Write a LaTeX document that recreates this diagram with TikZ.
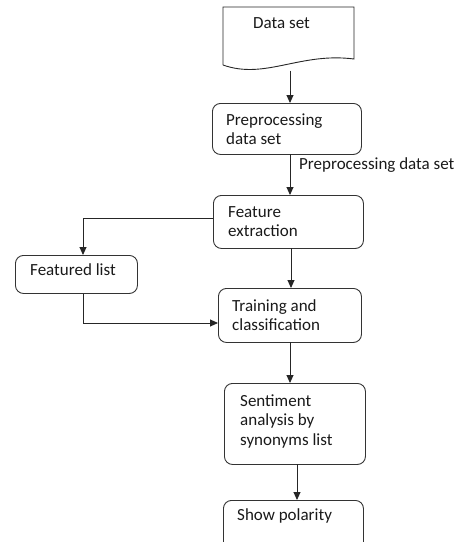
\documentclass[tikz,border=0pt]{standalone}
\usepackage{fontspec}
\setmainfont{Carlito}
\usetikzlibrary{arrows.meta}
\tikzset{
  box/.style={draw=black!80, line width=0.9pt, rounded corners=8pt, anchor=north west, inner sep=0pt},
  txt/.style={anchor=west, inner sep=0pt, font=\fontsize{17}{19.5}\selectfont, align=left, text=black!90},
  conn/.style={draw=black!85, line width=0.9pt},
  arr/.style={conn, -{Triangle[length=8pt,width=7pt]}}
}
\begin{document}
\begin{tikzpicture}[x=1pt,y=-1pt]
\useasboundingbox (0,0) rectangle (462,542);
\clip (0,0) rectangle (462,542);
% document shape
\draw[conn] (223,65) -- (223,7) -- (354,7) -- (354,59) .. controls (300,52) and (265,80) .. (223,65);
\coordinate (dsb) at (290,70.5);
\node[txt] (tds) at (253,23) {Data set};
% boxes
\node[box, minimum width=149pt, minimum height=51pt] (pre) at (212,103) {};
\node[box, minimum width=150pt, minimum height=53pt] (fe) at (213,195) {};
\node[box, minimum width=122pt, minimum height=38pt] (fl) at (15,255) {};
\node[box, minimum width=143pt, minimum height=54pt] (tc) at (218,288) {};
\node[box, minimum width=141pt, minimum height=81pt] (sa) at (224,383) {};
\node[box, minimum width=140pt, minimum height=60pt] (sp) at (223,500) {};
% texts
\node[txt] (tpre) at (226,129) {Preprocessing\\data set};
\node[txt] (tfe) at (228,221.5) {Feature\\extraction};
\node[txt] (tfl) at (30,270) {Featured list};
\node[txt] (ttc) at (232,315) {Training and\\classification};
\node[txt] (tsa) at (240,421) {Sentiment\\analysis by\\synonyms list};
\node[txt] (tsp) at (237,516) {Show polarity};
\node[txt] (lbl) at (299,165) {Preprocessing data set};
% connectors
\coordinate (c1) at (290,154);
\coordinate (c2) at (83,218);
\coordinate (c3) at (291,248);
\coordinate (c4) at (83,323);
\coordinate (c5) at (290,342);
\coordinate (c6) at (297,464);
\draw[arr] (dsb) -- (dsb |- pre.north);
\draw[arr] (c1) -- (c1 |- fe.north);
\draw[arr] (c2 -| fe.west) -- (c2) -- (c2 |- fl.north);
\draw[arr] (c3) -- (c3 |- tc.north);
\draw[arr] (c2 |- fl.south) -- (c4) -- (c4 -| tc.west);
\draw[arr] (c5) -- (c5 |- sa.north);
\draw[arr] (c6) -- (c6 |- sp.north);
\end{tikzpicture}
\end{document}
